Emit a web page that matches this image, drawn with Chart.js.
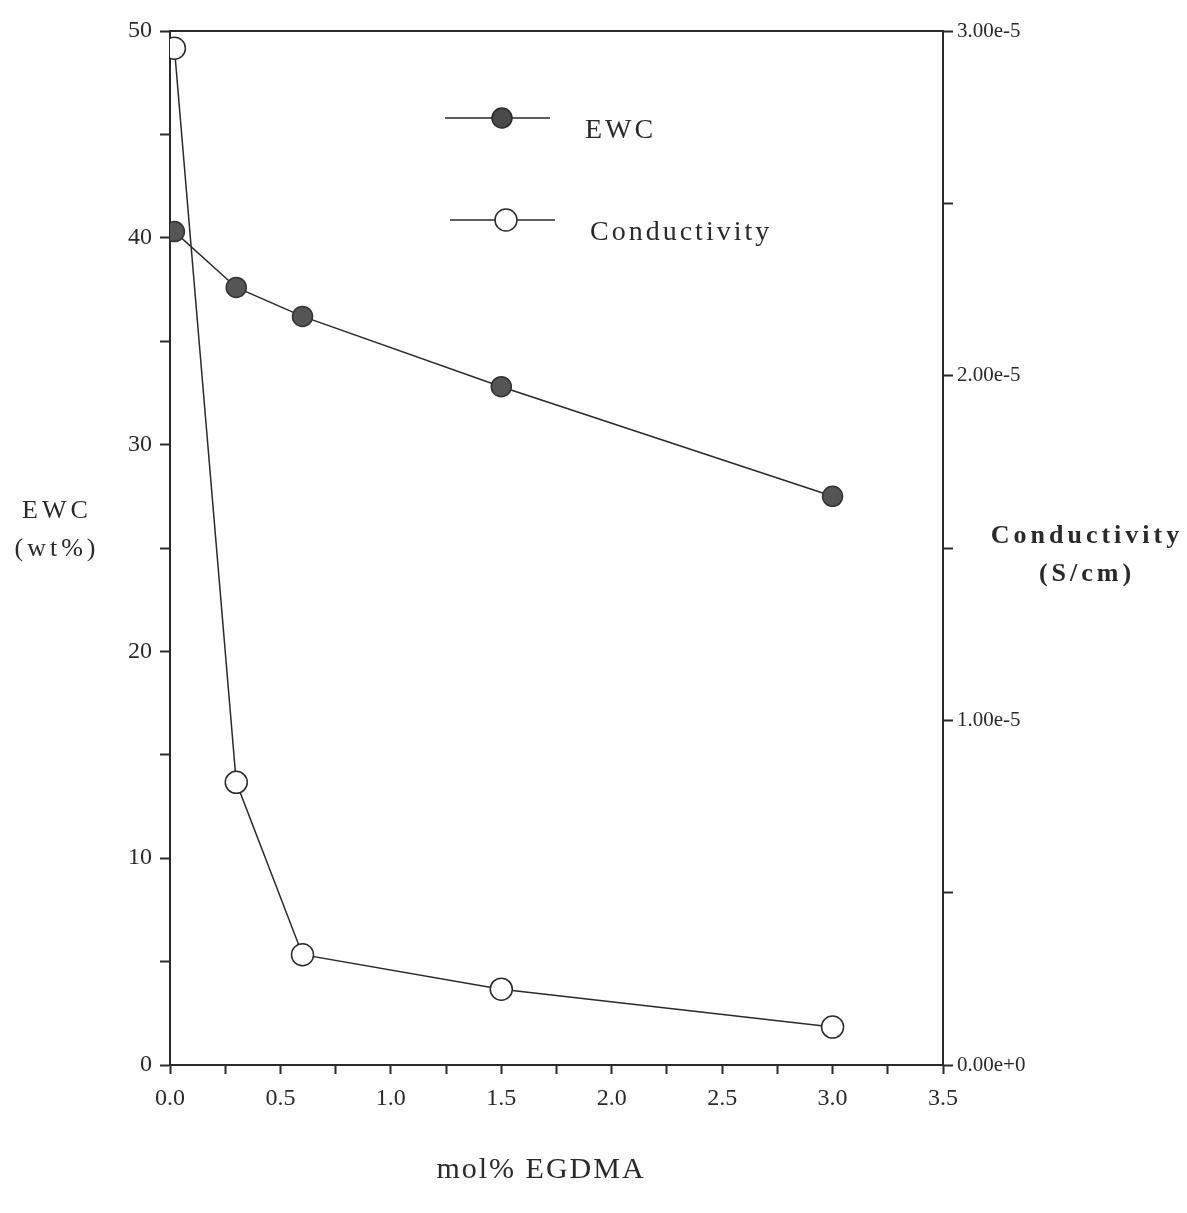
<!DOCTYPE html>
<html>
<head>
<meta charset="utf-8">
<script src="https://cdn.jsdelivr.net/npm/chart.js@4.4.0/dist/chart.umd.min.js"></script>
<style>
  html, body { margin: 0; padding: 0; background: #fff; }
  #caja { width: 1187px; height: 1213px; }
</style>
</head>
<body>
<div id="caja"><canvas id="grafico" width="1187" height="1213"></canvas></div>
<script>
// Datos
var egdma = [0.02, 0.3, 0.6, 1.5, 3.0];
var ewc = [40.3, 37.6, 36.2, 32.8, 27.5];
var conductividad = [2.95e-5, 0.82e-5, 0.32e-5, 0.22e-5, 0.11e-5];

var xTicks = [0.0, 0.5, 1.0, 1.5, 2.0, 2.5, 3.0, 3.5];
var ewcTicks = [0, 10, 20, 30, 40, 50];
var condTicks = [0, 1e-5, 2e-5, 3e-5];

var fuente = "'Liberation Serif', 'DejaVu Serif', serif";
var tinta = '#2a2a2a';

function puntos(xs, ys) {
    return xs.map(function (x, i) { return { x: x, y: ys[i] }; });
}

function esTick(valor, lista) {
    return lista.some(function (t) { return Math.abs(t - valor) < 1e-9; });
}

function texto(ctx, t, x, y, espacio) {
    ctx.letterSpacing = espacio + 'px';
    ctx.fillText(t, x, y);
    ctx.letterSpacing = '0px';
}

// Titulos horizontales, leyenda y linea superior del marco
var extras = {
    id: 'extras',
    afterDraw: function (chart) {
        var ctx = chart.ctx;
        var a = chart.chartArea;
        ctx.save();
        ctx.strokeStyle = tinta;
        ctx.lineWidth = 2;
        ctx.beginPath();
        ctx.moveTo(a.left, a.top);
        ctx.lineTo(a.right, a.top);
        ctx.stroke();

        ctx.fillStyle = tinta;
        ctx.textAlign = 'center';
        ctx.font = '26px ' + fuente;
        texto(ctx, 'EWC', 57, 518, 4);
        texto(ctx, '(wt%)', 57, 556, 4);
        ctx.font = 'bold 26px ' + fuente;
        texto(ctx, 'Conductivity', 1087, 543, 4);
        texto(ctx, '(S/cm)', 1087, 581, 4);
        ctx.font = '30px ' + fuente;
        texto(ctx, 'mol% EGDMA', 541, 1178, 2);

        // leyenda
        ctx.lineWidth = 1.5;
        ctx.beginPath();
        ctx.moveTo(445, 118); ctx.lineTo(550, 118);
        ctx.moveTo(450, 220); ctx.lineTo(555, 220);
        ctx.stroke();
        ctx.beginPath();
        ctx.arc(502, 118, 10, 0, Math.PI * 2);
        ctx.fillStyle = '#4a4a4a';
        ctx.fill();
        ctx.stroke();
        ctx.beginPath();
        ctx.arc(506, 220, 11, 0, Math.PI * 2);
        ctx.fillStyle = '#fff';
        ctx.fill();
        ctx.stroke();
        ctx.fillStyle = tinta;
        ctx.textAlign = 'left';
        ctx.font = '28px ' + fuente;
        texto(ctx, 'EWC', 585, 138, 3);
        texto(ctx, 'Conductivity', 590, 240, 3);
        ctx.restore();
    }
};

var ctx = document.getElementById('grafico').getContext('2d');

var grafico = new Chart(ctx, {
    type: 'scatter',
    data: {
        datasets: [{
            label: 'EWC',
            data: puntos(egdma, ewc),
            yAxisID: 'y',
            showLine: true,
            borderColor: tinta,
            borderWidth: 1.5,
            pointRadius: 10,
            pointBackgroundColor: '#555',
            pointBorderColor: '#333',
            pointBorderWidth: 1.5
        }, {
            label: 'Conductivity',
            data: puntos(egdma, conductividad),
            yAxisID: 'y2',
            showLine: true,
            borderColor: tinta,
            borderWidth: 1.5,
            pointRadius: 11,
            pointBackgroundColor: '#fff',
            pointBorderColor: tinta,
            pointBorderWidth: 1.5
        }]
    },
    options: {
        responsive: false,
        animation: false,
        layout: { padding: { left: 100, right: 154, top: 31, bottom: 88 } },
        plugins: {
            legend: { display: false },
            tooltip: { enabled: false }
        },
        scales: {
            x: {
                type: 'linear',
                min: 0,
                max: 3.5,
                afterFit: function (s) { s.height = 60; },
                border: { color: tinta, width: 2 },
                grid: { drawOnChartArea: false, tickLength: 9, tickColor: tinta, tickWidth: 2 },
                ticks: {
                    stepSize: 0.25,
                    autoSkip: false,
                    maxRotation: 0,
                    color: tinta,
                    padding: 10,
                    font: { family: fuente, size: 24 },
                    callback: function (v) { return esTick(v, xTicks) ? v.toFixed(1) : ''; }
                }
            },
            y: {
                position: 'left',
                min: 0,
                max: 50,
                afterFit: function (s) { s.width = 70; },
                border: { color: tinta, width: 2 },
                grid: { drawOnChartArea: false, tickLength: 10, tickColor: tinta, tickWidth: 2 },
                ticks: {
                    stepSize: 5,
                    autoSkip: false,
                    color: tinta,
                    padding: 8,
                    font: { family: fuente, size: 24 },
                    callback: function (v) { return esTick(v, ewcTicks) ? String(v) : ''; }
                }
            },
            y2: {
                position: 'right',
                min: 0,
                max: 3e-5,
                afterFit: function (s) { s.width = 90; },
                border: { color: tinta, width: 2 },
                grid: { drawOnChartArea: false, tickLength: 10, tickColor: tinta, tickWidth: 2 },
                ticks: {
                    stepSize: 0.5e-5,
                    autoSkip: false,
                    color: tinta,
                    padding: 4,
                    font: { family: fuente, size: 21 },
                    callback: function (v) { return esTick(v, condTicks) ? v.toExponential(2) : ''; }
                }
            }
        }
    },
    plugins: [extras]
});
</script>
</body>
</html>
